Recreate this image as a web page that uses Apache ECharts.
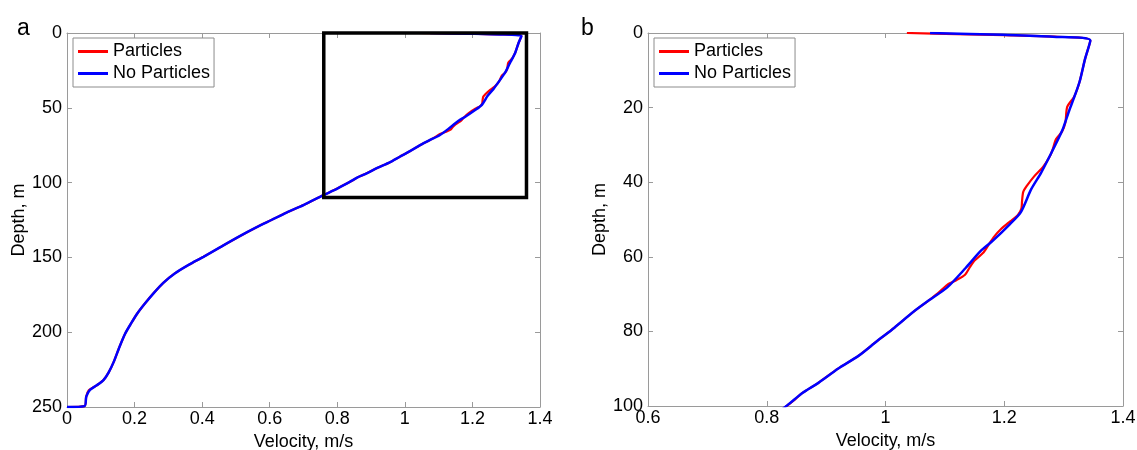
<!DOCTYPE html>
<html>
<head>
<meta charset="utf-8">
<script src="https://cdn.jsdelivr.net/npm/echarts@6/dist/echarts.min.js"></script>
<style>
html,body{margin:0;padding:0;background:#fff;}
#chart{width:1137px;height:450px;}
</style>
</head>
<body>
<div id="chart"></div>
<script>
// ---- data (velocity in m/s, depth in m) ----
const seriesNames = ['Particles', 'No Particles'];

const noParticlesVelocity = [1.075,1.198,1.282,1.345,1.336,1.327,1.316,1.310,1.298,1.286,1.275,1.262,1.245,1.228,1.208,1.180,1.160,1.135,1.104,1.072,1.045,1.015,0.985,0.955,0.920,0.887,0.860,0.837,0.800,0.758,0.700,0.650,0.605,0.560,0.510,0.455,0.404,0.360,0.319,0.285,0.256,0.230,0.208,0.190,0.172,0.155,0.138,0.123,0.108,0.088,0.068,0.057,0.052,0.000];
const noParticlesDepth    = [0,0.5,1.0,2.0,7,13,18,20.5,26,30,33.5,37.5,42,48,51.5,55.8,58.5,63,68.2,71.8,75,79,82.7,86.5,90,93.8,96.5,99.5,104,108.5,115,120,125,130,136,143,149.6,155,160.7,167,174,181,187.5,194,201,210,220,227,232,235.5,238.5,243,249.4,250];

const particlesVelocity = [1.036,1.120,1.200,1.290,1.345,1.336,1.327,1.318,1.306,1.303,1.297,1.287,1.282,1.277,1.266,1.250,1.238,1.232,1.230,1.229,1.223,1.210,1.195,1.182,1.172,1.164,1.150,1.142,1.134,1.120,1.104,1.088,1.072,1.045,1.015,0.985,0.955,0.920,0.887,0.860,0.845,0.835,0.800,0.758,0.700,0.650,0.605,0.560,0.510,0.455,0.404,0.360,0.319,0.285,0.256,0.230,0.208,0.190,0.172,0.155,0.138,0.123,0.108,0.088,0.064,0.057,0.052,0.000];
const particlesDepth    = [0,0.3,0.55,1.0,2.0,7,13,17,19.8,24,26.5,28.5,31,33,35.8,38.5,41,42.6,45,47,48.8,50.5,52.5,54.8,57.2,59,61,62.8,64.8,66.2,67.5,69.8,71.8,75,79,82.7,86.5,90,93.8,96.5,98.6,99.8,104,108.5,115,120,125,130,136,143,149.6,155,160.7,167,174,181,187.5,194,201,210,220,227,232,235.5,239,243,249.4,250];

// zoom box drawn on panel a (velocity, depth corners)
const boxVelocity = [0.76, 1.36, 1.36, 0.76, 0.76];
const boxDepth    = [0, 0, 110, 110, 0];

// axis ranges / ticks
const panelAVelocityRange = [0, 1.4], panelAVelocityStep = 0.2;
const panelADepthRange = [0, 250], panelADepthStep = 50;
const panelBVelocityRange = [0.6, 1.4], panelBVelocityStep = 0.2;
const panelBDepthRange = [0, 100], panelBDepthStep = 20;
const panelLabels = ['a', 'b'];

const zip = (xs, ys) => xs.map((x, i) => [x, ys[i]]);
const particles = zip(particlesVelocity, particlesDepth);
const noParticles = zip(noParticlesVelocity, noParticlesDepth);
const box = zip(boxVelocity, boxDepth);

const FONT = 'Liberation Sans, Arial, sans-serif';
const AXIS_COLOR = '#9a9a9a';
const FS = 18;
const labelStyle = {color: '#000', fontSize: FS, fontFamily: FONT};

function xAxes(gridIndex, range, step) {
  const common = {
    type: 'value', gridIndex, min: range[0], max: range[1], interval: step,
    splitLine: {show: false},
    axisLine: {show: true, onZero: false, lineStyle: {color: AXIS_COLOR, width: 1}},
    axisTick: {show: true, inside: true, length: 5, lineStyle: {color: AXIS_COLOR}}
  };
  return [
    Object.assign({}, common, {
      position: 'bottom',
      axisLabel: Object.assign({margin: 3}, labelStyle),
      name: 'Velocity, m/s', nameLocation: 'middle', nameGap: 22,
      nameTextStyle: {color: '#000', fontSize: FS, fontFamily: FONT}
    }),
    Object.assign({}, common, {position: 'top', axisLabel: {show: false}})
  ];
}
function yAxes(gridIndex, range, step) {
  const common = {
    type: 'value', gridIndex, min: range[0], max: range[1], interval: step, inverse: true,
    splitLine: {show: false},
    axisLine: {show: true, onZero: false, lineStyle: {color: AXIS_COLOR, width: 1}},
    axisTick: {show: true, inside: true, length: 5, lineStyle: {color: AXIS_COLOR}}
  };
  return [
    Object.assign({}, common, {
      position: 'left',
      axisLabel: Object.assign({margin: 5}, labelStyle),
      name: 'Depth, m', nameLocation: 'middle', nameGap: 38, nameRotate: 90,
      nameTextStyle: {color: '#000', fontSize: FS, fontFamily: FONT}
    }),
    Object.assign({}, common, {position: 'right', axisLabel: {show: false}})
  ];
}

function legend(left) {
  return {
    data: seriesNames, orient: 'vertical', left: left, top: 38,
    backgroundColor: '#fff', borderColor: '#8c8c8c', borderWidth: 1, borderRadius: 0,
    padding: [3, 4, 3, 5], itemGap: 1, itemWidth: 30, itemHeight: 3, icon: 'rect',
    textStyle: {color: '#000', fontSize: FS, fontFamily: FONT, lineHeight: 21},
    selectedMode: false
  };
}

function lineSeries(name, data, xi, yi, color, width, z) {
  return {
    name, type: 'line', data, xAxisIndex: xi, yAxisIndex: yi,
    showSymbol: false, symbol: 'none', smooth: 0.25, clip: true, z,
    lineStyle: {color, width}, itemStyle: {color}, animation: false
  };
}

const option = {
  backgroundColor: '#fff',
  animation: false,
  title: [
    {text: panelLabels[0], left: 12, top: 12, textStyle: {fontSize: 23, fontWeight: 'normal', fontFamily: FONT, color: '#000'}},
    {text: panelLabels[1], left: 576, top: 12, textStyle: {fontSize: 23, fontWeight: 'normal', fontFamily: FONT, color: '#000'}}
  ],
  legend: [legend(73), legend(654)],
  grid: [
    {left: 67, top: 33, width: 473, height: 374, containLabel: false, outerBoundsMode: 'none'},
    {left: 648, top: 33, width: 475, height: 373, containLabel: false, outerBoundsMode: 'none'}
  ],
  xAxis: [].concat(xAxes(0, panelAVelocityRange, panelAVelocityStep), xAxes(1, panelBVelocityRange, panelBVelocityStep)),
  yAxis: [].concat(yAxes(0, panelADepthRange, panelADepthStep), yAxes(1, panelBDepthRange, panelBDepthStep)),
  series: [
    lineSeries(seriesNames[0], particles, 0, 0, '#ff0000', 2.2, 2),
    lineSeries(seriesNames[1], noParticles, 0, 0, '#0000ff', 2.5, 3),
    {
      name: 'zoom box', type: 'line', data: box, xAxisIndex: 0, yAxisIndex: 0,
      showSymbol: false, symbol: 'none', clip: false, z: 4,
      lineStyle: {color: '#000', width: 3.5, join: 'miter', cap: 'square'}, animation: false
    },
    lineSeries(seriesNames[0], particles, 2, 2, '#ff0000', 2.2, 2),
    lineSeries(seriesNames[1], noParticles, 2, 2, '#0000ff', 2.5, 3)
  ]
};

const chart = echarts.init(document.getElementById('chart'), null, {renderer: 'canvas'});
chart.setOption(option);
</script>
</body>
</html>
